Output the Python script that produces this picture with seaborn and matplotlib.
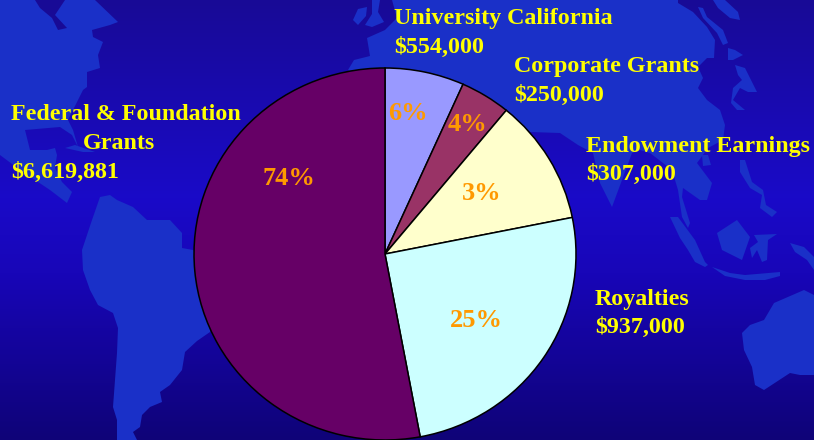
import matplotlib
matplotlib.use("Agg")
import matplotlib.pyplot as plt
from matplotlib.colors import LinearSegmentedColormap
from matplotlib.patches import Polygon
import numpy as np
import seaborn as sns

# --- chart values (slice shares, clockwise from 12 o'clock) ---
SOURCES = ["University California", "Corporate Grants", "Endowment Earnings", "Royalties", "Federal & Foundation Grants"]
SHARES = [6.7, 4.25, 10.9, 25.2, 52.95]
PCT_LABELS = ["6%", "4%", "3%", "25%", "74%"]
AMOUNTS = ["$554,000", "$250,000", "$307,000", "$937,000", "$6,619,881"]
SLICE_COLORS = ["#9999FF", "#993366", "#FFFFCC", "#CCFFFF", "#660066"]

W, H = 814, 440
LAND = "#1A30C8"
SEA_TOP = "#180A96"

# --- world map backdrop, pixel outlines ---
CONTINENTS = [
    # north america
    [(0, 0), (95, 0), (118, 22), (110, 25), (92, 30), (93, 37), (103, 42), (98, 55), (100, 68), (87, 72), (87, 87),
     (83, 90), (68, 120), (73, 130), (78, 147), (72, 135), (60, 127), (25, 130), (30, 150), (47, 150), (55, 148),
     (57, 155), (55, 168), (62, 182), (72, 192), (67, 203), (50, 190), (20, 170), (0, 155)],
    # cuba
    [(65, 148), (75, 145), (95, 152), (83, 152)],
    # south america
    [(92, 220), (100, 197), (110, 195), (117, 200), (133, 207), (147, 220), (170, 220), (182, 233), (182, 248),
     (193, 250), (230, 280), (210, 332), (197, 341), (185, 352), (182, 370), (170, 385), (160, 392), (162, 402),
     (150, 407), (142, 415), (140, 427), (133, 432), (137, 440), (117, 440), (117, 420), (113, 407), (115, 380),
     (117, 353), (118, 328), (113, 313), (98, 305), (90, 290), (83, 270), (82, 250)],
    # eurasia
    [(348, 70), (354, 60), (370, 56), (367, 38), (385, 30), (397, 18), (392, 0), (678, 0), (678, 3), (693, 12), (707, 27),
     (715, 40), (714, 58), (707, 58), (698, 67), (703, 78), (698, 88), (707, 100), (720, 110), (725, 125), (723, 140),
     (708, 148), (697, 163), (712, 183), (707, 200), (700, 200), (683, 188), (682, 197), (690, 223), (688, 228),
     (682, 217), (678, 190), (672, 170), (650, 153), (640, 150), (632, 153), (612, 207), (600, 183), (593, 153),
     (578, 145), (560, 133), (530, 132), (507, 112), (460, 130), (400, 100)],
    # britain, ireland
    [(372, 0), (380, 0), (378, 12), (384, 22), (372, 27), (365, 25), (372, 14)],
    [(353, 20), (358, 9), (367, 7), (366, 16), (358, 25)],
    # arctic and pacific islands
    [(713, 0), (725, 0), (738, 12), (740, 20), (730, 18), (718, 8)],
    [(698, 7), (703, 8), (707, 17), (723, 30), (728, 43), (723, 45), (717, 33), (703, 18)],
    [(728, 48), (735, 50), (743, 55), (733, 60), (728, 60)],
    [(735, 65), (745, 68), (757, 92), (748, 92), (740, 88), (733, 100), (745, 110), (737, 110), (731, 103), (733, 88), (742, 80), (738, 75)],
    [(702, 155), (708, 155), (711, 165), (703, 166)],
    [(740, 160), (745, 160), (752, 182), (763, 190), (766, 205), (777, 212), (772, 217), (760, 208), (762, 195), (750, 188), (740, 172)],
    # indonesia, new guinea
    [(670, 217), (678, 217), (695, 240), (705, 262), (708, 265), (705, 267), (695, 262), (688, 250), (680, 238)],
    [(712, 267), (730, 273), (745, 275), (780, 272), (780, 276), (765, 280), (745, 280), (725, 276)],
    [(717, 233), (737, 220), (750, 237), (742, 260), (722, 250)],
    [(754, 235), (777, 234), (768, 240), (767, 260), (762, 262), (757, 250), (752, 258), (750, 248), (758, 242)],
    [(790, 243), (804, 247), (814, 257), (814, 270), (807, 260), (795, 252)],
    # australia
    [(742, 333), (750, 325), (764, 320), (774, 303), (804, 290), (814, 295), (814, 375), (800, 375), (790, 373),
     (764, 390), (755, 385), (752, 367), (744, 350)],
]
# hudson bay sits on top of the land
HUDSON = [(35, 0), (65, 0), (55, 15), (67, 28), (58, 30), (52, 18), (40, 8)]

# (text, x, baseline y, align)
NAME_TEXT = [
    ("University California", 394, 24, "left"), ("Corporate Grants", 514, 72, "left"),
    ("Endowment Earnings", 586, 152, "left"), ("Royalties", 595, 305, "left"),
    ("Federal & Foundation", 11, 120, "left"), ("Grants", 119, 149, "center"),
]
AMOUNT_POS = [(394, 53), (514, 101), (586, 180), (595, 333), (11, 178)]
PCT_POS = [(408, 120), (468, 131), (482, 200), (476, 327), (289, 185)]

sns.set_theme(style="white")
plt.rcParams["font.family"] = ["Liberation Serif", "DejaVu Serif"]

fig = plt.figure(figsize=(W / 100, H / 100), dpi=100)

# backdrop
bg = fig.add_axes([0, 0, 1, 1])
sea = LinearSegmentedColormap.from_list("sea", [(0, SEA_TOP), (0.45, "#1A0AC8"), (0.62, "#1806B8"), (1, "#0F0378")])
bg.imshow(np.linspace(0, 1, H).reshape(-1, 1), cmap=sea, aspect="auto", extent=[0, W, H, 0], vmin=0, vmax=1)
for outline in CONTINENTS:
    bg.add_patch(Polygon(outline, closed=True, facecolor=LAND, edgecolor="none"))
bg.add_patch(Polygon(HUDSON, closed=True, facecolor=SEA_TOP, edgecolor="none"))
bg.set_xlim(0, W)
bg.set_ylim(H, 0)
bg.axis("off")

# pie is slightly squashed in the source: 191 wide, 186 high around (385, 254)
cx, cy, rx, ry = 385, 254, 191, 186
pie_ax = fig.add_axes([(cx - rx) / W, 1 - (cy + ry) / H, 2 * rx / W, 2 * ry / H])
pie_ax.pie(SHARES, colors=sns.color_palette(SLICE_COLORS), startangle=90, counterclock=False, radius=1,
           wedgeprops={"edgecolor": "black", "linewidth": 1.1}, frame=False)
pie_ax.set_aspect("auto")
pie_ax.set_xlim(-1, 1)
pie_ax.set_ylim(-1, 1)
for patch in pie_ax.patches:
    patch.set_clip_on(False)

def put(txt, x, y, color, size, ha="left"):
    fig.text(x / W, 1 - y / H, txt, color=color, fontsize=size, fontweight="bold", ha=ha, va="baseline")

for txt, x, y, ha in NAME_TEXT:
    put(txt, x, y, "#FFFF00", 17.3, ha)
for amt, (x, y) in zip(AMOUNTS, AMOUNT_POS):
    put(amt, x, y, "#FFFF00", 17.3)
for pct, (x, y) in zip(PCT_LABELS, PCT_POS):
    put(pct, x, y, "#FF9900", 19, "center")

fig.savefig("out.png", dpi=100)
